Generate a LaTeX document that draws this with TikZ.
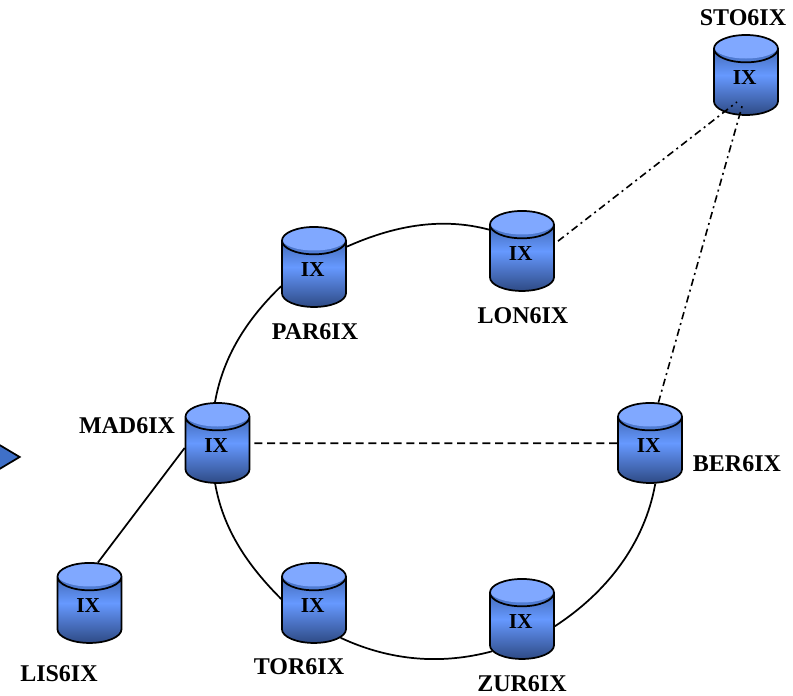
\documentclass[tikz,border=0pt]{standalone}
\usepackage{fontspec}
\setmainfont{Liberation Serif}
\usetikzlibrary{shapes.geometric}
\definecolor{ixmid}{HTML}{6699FF}
\definecolor{ixtop}{HTML}{2F5090}
\definecolor{ixlow}{HTML}{2E4A85}
\definecolor{ixlid}{HTML}{80A8FF}
\definecolor{ixfrag}{HTML}{3F70C8}
\newcommand{\ixtext}{\raisebox{-2pt}[0pt][0pt]{\kern-2pt IX}}
\tikzset{
	ixnode/.style={cylinder,shape border rotate=90,shape aspect=1.3,draw=black,line width=1.3pt,
		minimum width=1.687cm,minimum height=2.109cm,inner sep=0pt,anchor=shape center,
		top color=ixtop,bottom color=ixlow,middle color=ixmid,font=\fontsize{16}{18}\bfseries\selectfont,
		path picture={\fill[ixlid] ([yshift=-0.31cm]path picture bounding box.north) ellipse (0.85cm and 0.31cm);}},
	sitelabel/.style={font=\fontsize{18}{20}\bfseries\selectfont,inner sep=0pt},
	ringlink/.style={line width=1.3pt,looseness=0.9},
	crosslink/.style={line width=1.2pt,dash pattern=on 6pt off 3.5pt},
	longlink/.style={line width=1.2pt,dash pattern=on 5.5pt off 3pt on 1.5pt off 3pt}
}
\begin{document}
\begin{tikzpicture}
	\useasboundingbox (0,0) rectangle (20.905,18.347);
	\node[diamond,draw=black,line width=1.3pt,fill=ixfrag,minimum width=2.109cm,minimum height=1.265cm,inner sep=0pt] (frag) at (-0.527,6.300) {};
	\node[ixnode] (sto) at (19.665,16.370) {\ixtext};
	\node[ixnode] (lon) at (13.760,11.731) {\ixtext};
	\node[ixnode] (par) at (8.277,11.309) {\ixtext};
	\node[ixnode] (mad) at (5.734,6.669) {\ixtext};
	\node[ixnode] (ber) at (17.135,6.669) {\ixtext};
	\node[ixnode] (lis) at (2.359,2.452) {\ixtext};
	\node[ixnode] (tor) at (8.277,2.452) {\ixtext};
	\node[ixnode] (zur) at (13.760,2.030) {\ixtext};
	\node[sitelabel] (stolabel) at (19.586,17.873) {STO6IX};
	\node[sitelabel] (madlabel) at (3.348,7.117) {MAD6IX};
	\node[sitelabel] (parlabel) at (8.304,9.595) {PAR6IX};
	\node[sitelabel] (lonlabel) at (13.787,10.017) {LON6IX};
	\node[sitelabel] (berlabel) at (19.428,6.116) {BER6IX};
	\node[sitelabel] (lislabel) at (1.555,0.580) {LIS6IX};
	\node[sitelabel] (torlabel) at (7.882,0.764) {TOR6IX};
	\node[sitelabel] (zurlabel) at (13.760,0.316) {ZUR6IX};
	\coordinate (stoa) at (19.428,15.658);
	\coordinate (stob) at (19.586,15.632);
	% ring
	\draw[ringlink] (mad.93) to[out=80,in=224] (par.200);
	\draw[ringlink] (par.40) to[out=24,in=165] (lon.139);
	\draw[ringlink] (mad.266) to[out=-80,in=135] (tor.161);
	\draw[ringlink] (tor.-46) to[out=-25,in=195] (zur.220);
	\draw[ringlink] (zur.0) to[out=33,in=260] (ber.-81);
	% spokes
	\draw[ringlink] (lis.80) -- (mad.176);
	\draw[crosslink,shorten <=3pt] (mad.12) -- (ber.168);
	\draw[longlink,shorten <=3pt] (lon.24) -- (stoa);
	\draw[longlink] (ber.80) -- (stob);
\end{tikzpicture}
\end{document}
